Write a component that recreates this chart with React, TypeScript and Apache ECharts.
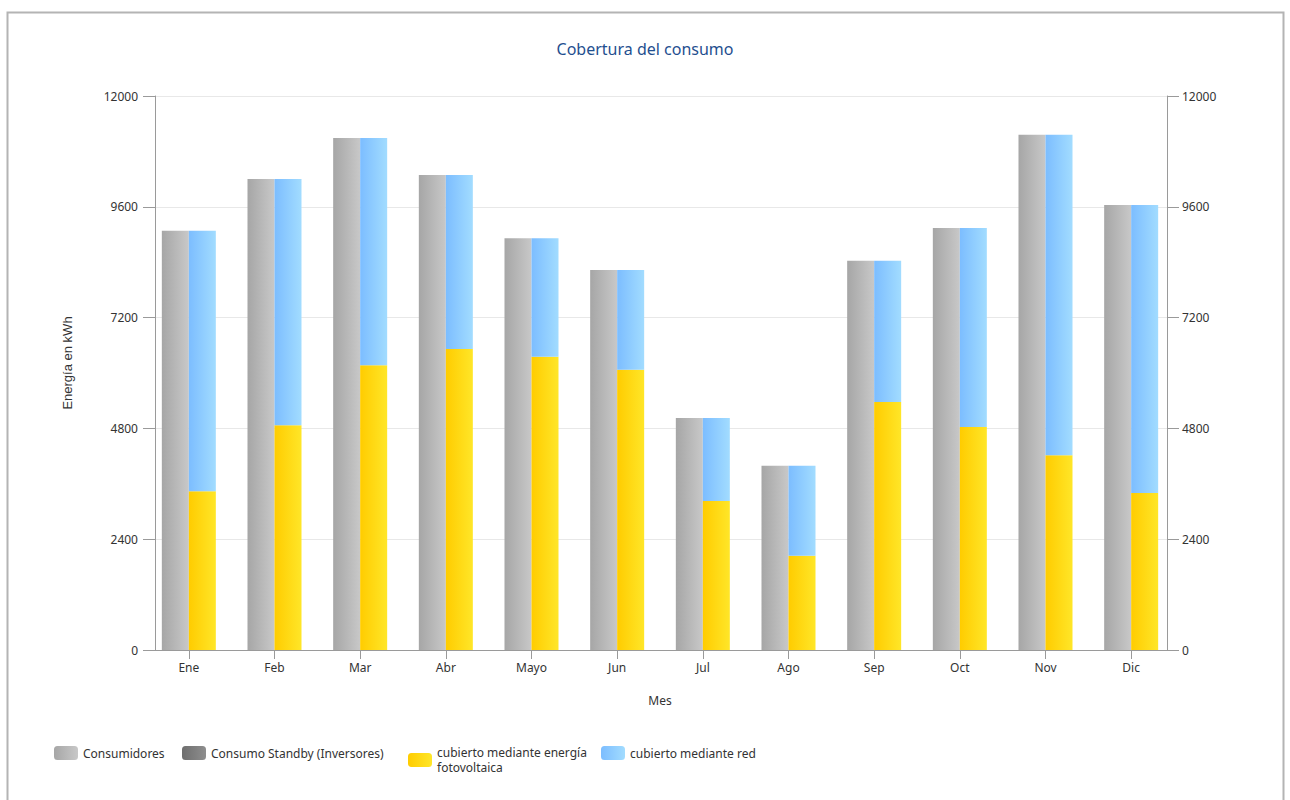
import React, { useEffect, useRef } from "react";
import * as echarts from "echarts";

const months = ["Ene", "Feb", "Mar", "Abr", "Mayo", "Jun", "Jul", "Ago", "Sep", "Oct", "Nov", "Dic"];
const consumidores = [9080, 10200, 11090, 10290, 8920, 8230, 5025, 3990, 8430, 9140, 11160, 9640];
const standby = [0, 0, 0, 0, 0, 0, 0, 0, 0, 0, 0, 0];
const fotovoltaica = [3440, 4870, 6170, 6520, 6350, 6070, 3230, 2040, 5370, 4830, 4220, 3400];
const red = [5640, 5330, 4920, 3770, 2570, 2160, 1795, 1950, 3060, 4310, 6940, 6240];
const yTicks = { min: 0, max: 12000, interval: 2400 };

const seriesNames = [
  "Consumidores",
  "Consumo Standby (Inversores)",
  "cubierto mediante energía\nfotovoltaica",
  "cubierto mediante red",
];

const FONT = "Noto Sans";

function grad(a: string, b: string) {
  return new echarts.graphic.LinearGradient(0, 0, 1, 0, [
    { offset: 0, color: a },
    { offset: 1, color: b },
  ]);
}

export default function App() {
  const ref = useRef<HTMLDivElement>(null);
  useEffect(() => {
    if (!ref.current) return;
    const chart = echarts.init(ref.current, undefined, { renderer: "svg" });
    const colors = [
      grad("#a6a6a6", "#c8c8c8"),
      grad("#6e6e6e", "#8e8e8e"),
      grad("#ffcc00", "#ffe628"),
      grad("#7cbdff", "#a2dcff"),
    ];
    const axisCommon = {
      type: "value" as const,
      min: yTicks.min,
      max: yTicks.max,
      interval: yTicks.interval,
      axisLine: { show: true, lineStyle: { color: "#9a9a9a" } },
      axisTick: { show: true, length: 12, lineStyle: { color: "#9a9a9a" } },
    };
    const legendLefts = [54, 182, 408, 601];
    const legendTops = [745.5, 745.5, 745, 745.5];
    chart.setOption({
      animation: false,
      backgroundColor: "#fff",
      textStyle: { fontFamily: FONT },
      title: {
        text: "Cobertura del consumo",
        left: "center",
        top: 36,
        textStyle: { color: "#1f4f8f", fontFamily: FONT, fontSize: 16, fontWeight: "normal" },
      },
      graphic: [
        {
          type: "rect",
          shape: { x: 7.5, y: 12.5, width: 1276, height: 800 },
          style: { fill: "none", stroke: "#b4b4b4", lineWidth: 2 },
          silent: true,
        },
        {
          type: "text",
          x: 67,
          y: 363,
          rotation: Math.PI / 2,
          style: {
            text: "Energía en kWh",
            fill: "#333",
            font: "13px 'Liberation Sans'",
            align: "center",
            verticalAlign: "middle",
          },
          silent: true,
        },
      ],
      grid: { left: 146, right: 116, top: 96, bottom: 150, containLabel: false },
      legend: seriesNames.map((n, i) => ({
        left: legendLefts[i],
        top: legendTops[i],
        itemWidth: 24,
        itemHeight: 14,
        itemGap: 0,
        padding: 0,
        textStyle: { color: "#333", fontFamily: FONT, fontSize: 12, lineHeight: 15 },
        data: [{ name: n, itemStyle: { color: colors[i] } }],
      })),
      xAxis: {
        type: "category",
        data: months,
        name: "Mes",
        nameLocation: "middle",
        nameGap: 44,
        nameTextStyle: { color: "#333", fontFamily: FONT, fontSize: 12 },
        axisLine: { show: true, lineStyle: { color: "#9a9a9a" } },
        axisTick: { show: true, alignWithLabel: true, length: 9, lineStyle: { color: "#9a9a9a" } },
        axisLabel: { color: "#333", fontFamily: FONT, fontSize: 12, margin: 11 },
      },
      yAxis: [
        {
          ...axisCommon,
          position: "left",
          offset: -9,
          axisLabel: { color: "#333", fontFamily: FONT, fontSize: 12, margin: 17, formatter: (v: number) => String(v) },
          splitLine: { show: true, lineStyle: { color: "#e8e8e8" } },
        },
        {
          ...axisCommon,
          position: "right",
          offset: -7,
          axisLabel: { color: "#333", fontFamily: FONT, fontSize: 12, margin: 15, formatter: (v: number) => String(v) },
          splitLine: { show: false },
        },
      ],
      series: [
        { data: consumidores, stack: "cons" },
        { data: standby, stack: "cons" },
        { data: fotovoltaica, stack: "cov" },
        { data: red, stack: "cov" },
      ].map((s, i) => ({
        name: seriesNames[i],
        type: "bar",
        stack: s.stack,
        data: s.data,
        barWidth: 27,
        barGap: "0%",
        itemStyle: { color: colors[i] },
      })),
    });
    return () => chart.dispose();
  }, []);
  return (
    <div
      ref={ref}
      style={{ position: "fixed", left: 0, top: 0, width: 1290, height: 800, background: "#fff" }}
    />
  );
}
